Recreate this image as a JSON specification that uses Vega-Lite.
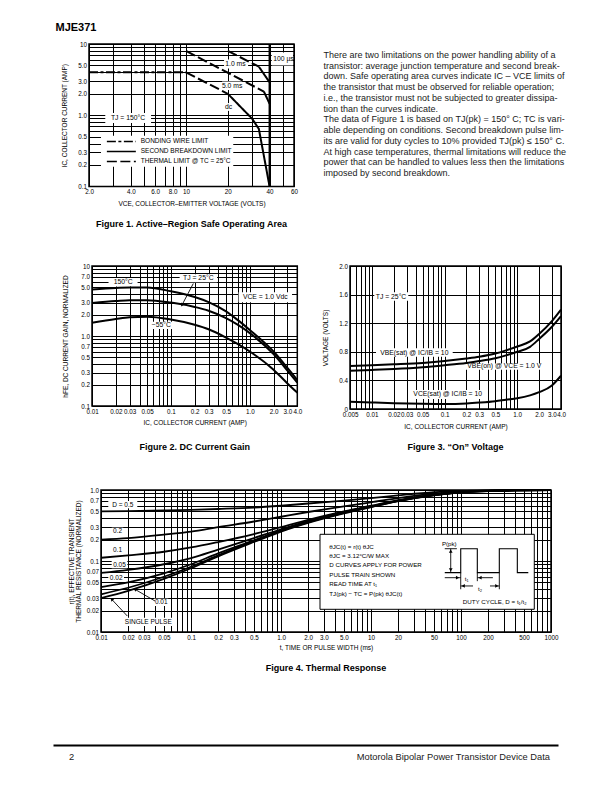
{
"$schema":"https://vega.github.io/schema/vega-lite/v6.json",
"padding":{"left":53,"top":22,"right":5,"bottom":5},
"background":"white",
"title":{"text":"MJE371","anchor":"start","frame":"group","fontSize":11,"fontWeight":"bold","offset":6,"dx":2.5,"color":"black"},
"config":{
 "font":"Liberation Sans",
 "view":{"stroke":"black","strokeWidth":1.5},
 "axis":{"grid":true,"gridColor":"black","gridWidth":1,"gridOpacity":1,"domain":false,"ticks":false,"labelFont":"Liberation Sans","labelFontSize":6.3,"labelColor":"black","labelPadding":2.5,"labelFlush":false,"labelOverlap":false,"labelBound":false,"titleFont":"Liberation Sans","titleFontSize":6.5,"titleFontWeight":"normal","titleColor":"black"},
 "title":{"font":"Liberation Sans","fontSize":9,"fontWeight":"bold","color":"black"},
 "text":{"font":"Liberation Sans","fontSize":6.5,"color":"black"},
 "line":{"color":"black","strokeWidth":2},
 "rule":{"color":"black","strokeWidth":0.9},
 "point":{"color":"black","filled":true,"opacity":1}
},
"datasets":{
 "f1box":[
  {"label":"1.0 ms","x":22.7,"y":5.24,"x1":18.8,"x2":28.0,"y1":6.06,"y2":4.53},
  {"label":"5.0 ms","x":21.5,"y":2.59,"x1":18.2,"x2":25.4,"y1":2.97,"y2":2.26},
  {"label":"dc","x":20.3,"y":1.3,"x1":18.9,"x2":22.0,"y1":1.48,"y2":1.15},
  {"label":"100 µs","x":50.4,"y":6.2,"x1":41.5,"x2":59,"y1":7.6,"y2":5.0},
  {"label":"TJ = 150°C","x":3.82,"y":0.913,"x1":2.62,"x2":5.6,"y1":1.07,"y2":0.777},
  {"label":"","x":10,"y":0.3,"x1":2.44,"x2":21.9,"y1":0.515,"y2":0.189}
 ],
 "f1key":[
  {"limit":"BONDING WIRE LIMIT","x":2.69,"x2":4.35,"tx":4.72,"y":0.428},
  {"limit":"SECOND BREAKDOWN LIMIT","x":2.69,"x2":4.35,"tx":4.72,"y":0.31},
  {"limit":"THERMAL LIMIT @ TC = 25°C","x":2.69,"x2":4.35,"tx":4.72,"y":0.224}
 ],
 "f1curve":[
  {"seg":"dc-a","limit":"BONDING WIRE LIMIT","v":2,"i":4.0},
  {"seg":"dc-a","limit":"BONDING WIRE LIMIT","v":10,"i":4.0},
  {"seg":"dc-b","limit":"THERMAL LIMIT @ TC = 25°C","v":10,"i":4.0},
  {"seg":"dc-b","limit":"THERMAL LIMIT @ TC = 25°C","v":20,"i":2.0},
  {"seg":"dc-c","limit":"SECOND BREAKDOWN LIMIT","v":20,"i":2.0},
  {"seg":"dc-c","limit":"SECOND BREAKDOWN LIMIT","v":30,"i":0.89},
  {"seg":"dc-c","limit":"SECOND BREAKDOWN LIMIT","v":33.5,"i":0.64},
  {"seg":"dc-c","limit":"SECOND BREAKDOWN LIMIT","v":40,"i":0.1},
  {"seg":"5ms-a","limit":"THERMAL LIMIT @ TC = 25°C","v":10,"i":8.0},
  {"seg":"5ms-a","limit":"THERMAL LIMIT @ TC = 25°C","v":36.4,"i":2.15},
  {"seg":"5ms-b","limit":"SECOND BREAKDOWN LIMIT","v":36.4,"i":2.15},
  {"seg":"5ms-b","limit":"SECOND BREAKDOWN LIMIT","v":40,"i":1.45},
  {"seg":"1ms-a","limit":"THERMAL LIMIT @ TC = 25°C","v":20,"i":8.0},
  {"seg":"1ms-a","limit":"THERMAL LIMIT @ TC = 25°C","v":33.5,"i":4.8},
  {"seg":"1ms-b","limit":"SECOND BREAKDOWN LIMIT","v":33.5,"i":4.8},
  {"seg":"1ms-b","limit":"SECOND BREAKDOWN LIMIT","v":40,"i":2.9},
  {"seg":"100us","limit":"SECOND BREAKDOWN LIMIT","v":40,"i":10},
  {"seg":"100us","limit":"SECOND BREAKDOWN LIMIT","v":40,"i":0.1}
 ],
 "para":[
  {"line":1,"text":"\u00a0\u00a0\u00a0\u00a0There are two limitations on the power handling ability of a"},
  {"line":2,"text":"transistor: average junction temperature and second break-"},
  {"line":3,"text":"down. Safe operating area curves indicate IC – VCE limits of"},
  {"line":4,"text":"the transistor that must be observed for reliable operation;"},
  {"line":5,"text":"i.e., the transistor must not be subjected to greater dissipa-"},
  {"line":6,"text":"tion than the curves indicate."},
  {"line":7,"text":"\u00a0\u00a0\u00a0\u00a0The data of Figure 1 is based on TJ(pk) = 150° C; TC is vari-"},
  {"line":8,"text":"able depending on conditions. Second breakdown pulse lim-"},
  {"line":9,"text":"its are valid for duty cycles to 10% provided TJ(pk) ≤ 150° C."},
  {"line":10,"text":"At high case temperatures, thermal limitations will reduce the"},
  {"line":11,"text":"power that can be handled to values less then the limitations"},
  {"line":12,"text":"imposed by second breakdown."}
 ],
 "f2box":[
  {"label":"150°C","x":0.0248,"y":5.87,"x1":0.0162,"x2":0.0378,"y1":6.74,"y2":5.1},
  {"label":"TJ = 25°C","x":0.2225,"y":6.67,"x1":0.129,"x2":0.384,"y1":7.61,"y2":5.85},
  {"label":"VCE = 1.0 Vdc","x":1.572,"y":3.57,"x1":0.721,"x2":3.43,"y1":4.21,"y2":3.03},
  {"label":"−55°C","x":0.0755,"y":1.42,"x1":0.0537,"x2":0.1063,"y1":1.6,"y2":1.26}
 ],
 "f2curve":[
  {"T":"150","x":0.01,"y":4.6},{"T":"150","x":0.02,"y":4.85},{"T":"150","x":0.03,"y":4.95},{"T":"150","x":0.05,"y":4.95},{"T":"150","x":0.1,"y":4.35},{"T":"150","x":0.2,"y":3.6},{"T":"150","x":0.3,"y":3.05},{"T":"150","x":0.5,"y":2.25},{"T":"150","x":0.7,"y":1.7},{"T":"150","x":1,"y":1.22},{"T":"150","x":2,"y":0.6},{"T":"150","x":3,"y":0.35},{"T":"150","x":4,"y":0.235},
  {"T":"25","x":0.01,"y":2.95},{"T":"25","x":0.02,"y":3.15},{"T":"25","x":0.03,"y":3.25},{"T":"25","x":0.05,"y":3.25},{"T":"25","x":0.1,"y":3.0},{"T":"25","x":0.2,"y":2.6},{"T":"25","x":0.3,"y":2.3},{"T":"25","x":0.5,"y":1.8},{"T":"25","x":0.7,"y":1.45},{"T":"25","x":1,"y":1.1},{"T":"25","x":2,"y":0.55},{"T":"25","x":3,"y":0.32},{"T":"25","x":4,"y":0.215},
  {"T":"-55","x":0.01,"y":1.55},{"T":"-55","x":0.02,"y":1.75},{"T":"-55","x":0.03,"y":1.85},{"T":"-55","x":0.05,"y":1.88},{"T":"-55","x":0.1,"y":1.72},{"T":"-55","x":0.2,"y":1.45},{"T":"-55","x":0.3,"y":1.25},{"T":"-55","x":0.5,"y":0.95},{"T":"-55","x":0.7,"y":0.77},{"T":"-55","x":1,"y":0.6},{"T":"-55","x":2,"y":0.33},{"T":"-55","x":3,"y":0.21},{"T":"-55","x":4,"y":0.155}
 ],
 "f2arrow":[{"x":0.1923,"y":5.62,"x2":0.1382,"y2":2.77}],
 "f3box":[
  {"label":"TJ = 25°C","x":0.01833,"y":1.573,"x1":0.0108,"x2":0.0317,"y1":1.632,"y2":1.515},
  {"label":"VBE(sat) @ IC/IB = 10","x":0.0383,"y":0.79,"x1":0.0114,"x2":0.1294,"y1":0.849,"y2":0.731},
  {"label":"VBE(on) @ VCE = 1.0 V","x":0.664,"y":0.595,"x1":0.178,"x2":2.49,"y1":0.635,"y2":0.55},
  {"label":"VCE(sat) @ IC/IB = 10","x":0.1104,"y":0.203,"x1":0.0338,"x2":0.36,"y1":0.266,"y2":0.14}
 ],
 "f3curve":[
  {"c":"sat","x":0.005,"v":0.6},{"c":"sat","x":0.01,"v":0.612},{"c":"sat","x":0.02,"v":0.625},{"c":"sat","x":0.05,"v":0.645},{"c":"sat","x":0.1,"v":0.67},{"c":"sat","x":0.2,"v":0.705},{"c":"sat","x":0.3,"v":0.73},{"c":"sat","x":0.5,"v":0.775},{"c":"sat","x":0.7,"v":0.82},{"c":"sat","x":1,"v":0.875},{"c":"sat","x":1.5,"v":0.945},{"c":"sat","x":2,"v":1.05},{"c":"sat","x":3,"v":1.23},{"c":"sat","x":4,"v":1.39},
  {"c":"on","x":0.005,"v":0.536},{"c":"on","x":0.01,"v":0.547},{"c":"on","x":0.02,"v":0.56},{"c":"on","x":0.05,"v":0.585},{"c":"on","x":0.1,"v":0.613},{"c":"on","x":0.2,"v":0.645},{"c":"on","x":0.3,"v":0.67},{"c":"on","x":0.5,"v":0.71},{"c":"on","x":0.7,"v":0.75},{"c":"on","x":1,"v":0.8},{"c":"on","x":1.5,"v":0.87},{"c":"on","x":2,"v":0.98},{"c":"on","x":3,"v":1.15},{"c":"on","x":4,"v":1.3},
  {"c":"ce","x":0.005,"v":0.103},{"c":"ce","x":0.01,"v":0.092},{"c":"ce","x":0.02,"v":0.082},{"c":"ce","x":0.05,"v":0.073},{"c":"ce","x":0.1,"v":0.07},{"c":"ce","x":0.2,"v":0.078},{"c":"ce","x":0.3,"v":0.09},{"c":"ce","x":0.5,"v":0.11},{"c":"ce","x":0.7,"v":0.13},{"c":"ce","x":1,"v":0.15},{"c":"ce","x":1.5,"v":0.19},{"c":"ce","x":2,"v":0.235},{"c":"ce","x":3,"v":0.33},{"c":"ce","x":4,"v":0.465}
 ],
 "f4box":[
  {"label":"D = 0.5","x":0.01747,"y":0.621,"x1":0.01205,"x2":0.0253,"y1":0.7,"y2":0.552},
  {"label":"0.2","x":0.01525,"y":0.262,"x1":0.01314,"x2":0.01769,"y1":0.2944,"y2":0.2324},
  {"label":"0.1","x":0.01525,"y":0.1429,"x1":0.01314,"x2":0.01769,"y1":0.159,"y2":0.1284},
  {"label":"0.05","x":0.01606,"y":0.0887,"x1":0.01314,"x2":0.0196,"y1":0.1,"y2":0.0789},
  {"label":"0.02","x":0.01475,"y":0.0571,"x1":0.01205,"x2":0.018,"y1":0.0641,"y2":0.0506},
  {"label":"0.01","x":0.04666,"y":0.0262,"x1":0.03879,"x2":0.05594,"y1":0.02944,"y2":0.02323},
  {"label":"SINGLE PULSE","x":0.03354,"y":0.01396,"x1":0.01769,"x2":0.06359,"y1":0.0159,"y2":0.01215}
 ],
 "f4legendbox":[{"x1":2.713,"x2":652,"y1":0.2377,"y2":0.02088}],
 "f4curve":[
  {"D":"0.5","t":0.01,"r":0.5},{"D":"0.5","t":0.02,"r":0.505},{"D":"0.5","t":0.05,"r":0.515},{"D":"0.5","t":0.1,"r":0.525},{"D":"0.5","t":0.2,"r":0.54},{"D":"0.5","t":0.5,"r":0.565},{"D":"0.5","t":1,"r":0.6},{"D":"0.5","t":2,"r":0.645},{"D":"0.5","t":5,"r":0.71},{"D":"0.5","t":10,"r":0.77},{"D":"0.5","t":20,"r":0.84},{"D":"0.5","t":50,"r":0.93},{"D":"0.5","t":100,"r":0.97},{"D":"0.5","t":200,"r":0.99},{"D":"0.5","t":500,"r":1.0},{"D":"0.5","t":1000,"r":1.0},
  {"D":"0.2","t":0.01,"r":0.2},{"D":"0.2","t":0.02,"r":0.21},{"D":"0.2","t":0.05,"r":0.235},{"D":"0.2","t":0.1,"r":0.26},{"D":"0.2","t":0.2,"r":0.3},{"D":"0.2","t":0.5,"r":0.36},{"D":"0.2","t":1,"r":0.42},{"D":"0.2","t":2,"r":0.49},{"D":"0.2","t":5,"r":0.59},{"D":"0.2","t":10,"r":0.67},{"D":"0.2","t":20,"r":0.77},{"D":"0.2","t":50,"r":0.89},{"D":"0.2","t":100,"r":0.95},{"D":"0.2","t":200,"r":0.98},{"D":"0.2","t":500,"r":1.0},{"D":"0.2","t":1000,"r":1.0},
  {"D":"0.1","t":0.01,"r":0.111},{"D":"0.1","t":0.02,"r":0.12},{"D":"0.1","t":0.05,"r":0.135},{"D":"0.1","t":0.1,"r":0.155},{"D":"0.1","t":0.2,"r":0.185},{"D":"0.1","t":0.5,"r":0.24},{"D":"0.1","t":1,"r":0.3},{"D":"0.1","t":2,"r":0.38},{"D":"0.1","t":5,"r":0.5},{"D":"0.1","t":10,"r":0.6},{"D":"0.1","t":20,"r":0.72},{"D":"0.1","t":50,"r":0.86},{"D":"0.1","t":100,"r":0.94},{"D":"0.1","t":200,"r":0.975},{"D":"0.1","t":500,"r":0.995},{"D":"0.1","t":1000,"r":1.0},
  {"D":"0.05","t":0.01,"r":0.068},{"D":"0.05","t":0.02,"r":0.075},{"D":"0.05","t":0.05,"r":0.09},{"D":"0.05","t":0.1,"r":0.11},{"D":"0.05","t":0.2,"r":0.145},{"D":"0.05","t":0.5,"r":0.21},{"D":"0.05","t":1,"r":0.28},{"D":"0.05","t":2,"r":0.365},{"D":"0.05","t":5,"r":0.49},{"D":"0.05","t":10,"r":0.59},{"D":"0.05","t":20,"r":0.71},{"D":"0.05","t":50,"r":0.855},{"D":"0.05","t":100,"r":0.935},{"D":"0.05","t":200,"r":0.97},{"D":"0.05","t":500,"r":0.99},{"D":"0.05","t":1000,"r":1.0},
  {"D":"0.02","t":0.01,"r":0.043},{"D":"0.02","t":0.02,"r":0.05},{"D":"0.02","t":0.05,"r":0.067},{"D":"0.02","t":0.1,"r":0.09},{"D":"0.02","t":0.2,"r":0.128},{"D":"0.02","t":0.5,"r":0.195},{"D":"0.02","t":1,"r":0.27},{"D":"0.02","t":2,"r":0.355},{"D":"0.02","t":5,"r":0.48},{"D":"0.02","t":10,"r":0.585},{"D":"0.02","t":20,"r":0.705},{"D":"0.02","t":50,"r":0.85},{"D":"0.02","t":100,"r":0.93},{"D":"0.02","t":200,"r":0.97},{"D":"0.02","t":500,"r":0.99},{"D":"0.02","t":1000,"r":1.0},
  {"D":"0.01","t":0.01,"r":0.034},{"D":"0.01","t":0.02,"r":0.042},{"D":"0.01","t":0.05,"r":0.06},{"D":"0.01","t":0.1,"r":0.083},{"D":"0.01","t":0.2,"r":0.12},{"D":"0.01","t":0.5,"r":0.19},{"D":"0.01","t":1,"r":0.265},{"D":"0.01","t":2,"r":0.35},{"D":"0.01","t":5,"r":0.475},{"D":"0.01","t":10,"r":0.58},{"D":"0.01","t":20,"r":0.7},{"D":"0.01","t":50,"r":0.845},{"D":"0.01","t":100,"r":0.93},{"D":"0.01","t":200,"r":0.97},{"D":"0.01","t":500,"r":0.99},{"D":"0.01","t":1000,"r":1.0},
  {"D":"single","t":0.01,"r":0.03},{"D":"single","t":0.02,"r":0.038},{"D":"single","t":0.05,"r":0.056},{"D":"single","t":0.1,"r":0.079},{"D":"single","t":0.2,"r":0.116},{"D":"single","t":0.5,"r":0.185},{"D":"single","t":1,"r":0.26},{"D":"single","t":2,"r":0.345},{"D":"single","t":5,"r":0.47},{"D":"single","t":10,"r":0.575},{"D":"single","t":20,"r":0.695},{"D":"single","t":50,"r":0.84},{"D":"single","t":100,"r":0.925},{"D":"single","t":200,"r":0.965},{"D":"single","t":500,"r":0.99},{"D":"single","t":1000,"r":1.0}
 ],
 "f4wave":[
  {"k":1,"t":66,"r":0.0685},{"k":2,"t":99.3,"r":0.0685},{"k":3,"t":99.3,"r":0.149},{"k":4,"t":151.8,"r":0.149},{"k":5,"t":151.8,"r":0.0685},{"k":6,"t":266.5,"r":0.0685},{"k":7,"t":266.5,"r":0.149},{"k":8,"t":422.5,"r":0.149},{"k":9,"t":422.5,"r":0.0685},{"k":10,"t":559.5,"r":0.0685}
 ],
 "f4rule":[
  {"x":76.9,"y":0.149,"x2":76.9,"y2":0.0685},
  {"x":66,"y":0.149,"x2":90,"y2":0.149},
  {"x":66,"y":0.0582,"x2":99.3,"y2":0.0582},
  {"x":151.8,"y":0.0582,"x2":226,"y2":0.0582},
  {"x":99.3,"y":0.0445,"x2":136,"y2":0.0445},
  {"x":210,"y":0.0445,"x2":266.5,"y2":0.0445},
  {"x":99.3,"y":0.0685,"x2":99.3,"y2":0.04},
  {"x":151.8,"y":0.0685,"x2":151.8,"y2":0.052},
  {"x":266.5,"y":0.0685,"x2":266.5,"y2":0.04},
  {"x":0.0398,"y":0.02733,"x2":0.02387,"y2":0.0399},
  {"x":0.0196,"y":0.0168,"x2":0.01314,"y2":0.0289}
 ],
 "f4head":[
  {"x":76.9,"y":0.1381,"dir":"up"},
  {"x":76.9,"y":0.0748,"dir":"down"},
  {"x":91.6,"y":0.0582,"dir":"right"},
  {"x":162.7,"y":0.0582,"dir":"left"},
  {"x":105.8,"y":0.0445,"dir":"left"},
  {"x":249.9,"y":0.0445,"dir":"right"}
 ],
 "f4lead1":[{"x":0.02387,"y":0.0399}],
 "f4lead2":[{"x":0.01314,"y":0.0289}],
 "f4label":[
  {"label":"P(pk)","x":74.1,"y":0.172},
  {"label":"t₁","x":115.7,"y":0.0553},
  {"label":"t₂","x":162.6,"y":0.0408},
  {"label":"DUTY CYCLE, D = t₁/t₂","x":236.8,"y":0.0265}
 ],
 "f4boxtext":[
  {"label":"θJC(t) = r(t) θJC","x":3.44,"y":0.1575},
  {"label":"θJC = 3.12°C/W MAX","x":3.44,"y":0.1176},
  {"label":"D CURVES APPLY FOR POWER","x":3.44,"y":0.0878},
  {"label":"PULSE TRAIN SHOWN","x":3.44,"y":0.0641},
  {"label":"READ TIME AT t₁","x":3.44,"y":0.047},
  {"label":"TJ(pk) − TC = P(pk) θJC(t)","x":3.44,"y":0.0346}
 ],
 "footer":[
  {"side":"left","label":"2"},
  {"side":"right","label":"Motorola Bipolar Power Transistor Device Data"}
 ]
},
"bounds":"full","spacing":0,
"vconcat":[
 {"bounds":"full","spacing":0,"vconcat":[
  {"bounds":"flush","spacing":0,"hconcat":[
   {"width":35.5,"height":218,"view":{"stroke":null},"data":{"values":[]},"mark":"point"},
   {"width":205,"height":142.4,
    "title":{"text":"Figure 1. Active–Region Safe Operating Area","orient":"bottom","anchor":"middle","frame":"group","offset":13},
    "layer":[
     {"data":{"name":"f1box"},"mark":{"type":"rect","fill":"white","stroke":null},
      "encoding":{
       "x":{"field":"x1","type":"quantitative","scale":{"type":"log","domain":[2,60],"nice":false},"axis":{"title":"VCE, COLLECTOR–EMITTER VOLTAGE (VOLTS)","tickCount":200,"values":[2,3,4,5,6,7,8,9,10,20,30,40,50,60],"labelExpr":"indexof([2,4,6,8,10,20,40,60], datum.value) >= 0 ? (datum.value >= 10 ? format(datum.value, 'd') : format(datum.value, '.1f')) : ''","titlePadding":5}},
       "x2":{"field":"x2"},
       "y":{"field":"y1","type":"quantitative","scale":{"type":"log","domain":[0.1,10],"nice":false},"axis":{"title":"IC, COLLECTOR CURRENT (AMP)","tickCount":200,"values":[0.1,0.2,0.3,0.4,0.5,0.6,0.7,0.8,0.9,1,2,3,4,5,6,7,8,9,10],"labelExpr":"indexof([0.1,0.2,0.3,0.5,1,2,3,5,10], datum.value) >= 0 ? (datum.value >= 10 ? format(datum.value, 'd') : datum.value >= 1 ? format(datum.value, '.1f') : '' + datum.value) : ''","titlePadding":10}},
       "y2":{"field":"y2"}}},
     {"data":{"name":"f1curve"},"mark":{"type":"line","color":"black","strokeWidth":2},
      "encoding":{
       "x":{"field":"v","type":"quantitative","scale":{"type":"log","domain":[2,60],"nice":false}},
       "y":{"field":"i","type":"quantitative","scale":{"type":"log","domain":[0.1,10],"nice":false}},
       "detail":{"field":"seg"},
       "strokeDash":{"field":"limit","type":"nominal",
        "scale":{"domain":["BONDING WIRE LIMIT","SECOND BREAKDOWN LIMIT","THERMAL LIMIT @ TC = 25°C"],"range":[[9,2.5,3,2.5],[1,0],[10,3.5]]},
        "legend":null}}},
     {"data":{"name":"f1key"},"mark":{"type":"rule","strokeWidth":1.5,"color":"black"},
      "encoding":{
       "x":{"field":"x","type":"quantitative","scale":{"type":"log","domain":[2,60],"nice":false}},
       "x2":{"field":"x2"},
       "y":{"field":"y","type":"quantitative","scale":{"type":"log","domain":[0.1,10],"nice":false}},
       "strokeDash":{"field":"limit","type":"nominal","legend":null}}},
     {"data":{"name":"f1key"},"mark":{"type":"text","fontSize":6.5,"align":"left"},
      "encoding":{
       "x":{"field":"tx","type":"quantitative","scale":{"type":"log","domain":[2,60],"nice":false}},
       "y":{"field":"y","type":"quantitative","scale":{"type":"log","domain":[0.1,10],"nice":false}},
       "text":{"field":"limit"}}},
     {"data":{"name":"f1box"},"mark":{"type":"text","fontSize":6.8},
      "encoding":{
       "x":{"field":"x","type":"quantitative","scale":{"type":"log","domain":[2,60],"nice":false}},
       "y":{"field":"y","type":"quantitative","scale":{"type":"log","domain":[0.1,10],"nice":false}},
       "text":{"field":"label"}}}
    ]},
   {"width":28.2,"height":1,"view":{"stroke":null},"data":{"values":[]},"mark":"point"},
   {"width":1,"height":140,"view":{"stroke":null},"data":{"name":"para"},
    "mark":{"type":"text","align":"left","baseline":"middle","fontSize":9,"color":"#1a1a1a"},
    "encoding":{"y":{"field":"line","type":"ordinal","scale":{"type":"point","padding":1.162},"axis":null},"text":{"field":"text"}}}
  ]},
  {"bounds":"flush","spacing":0,"hconcat":[
   {"width":38.7,"height":219,"view":{"stroke":null},"data":{"values":[]},"mark":"point"},
   {"width":205.3,"height":140,
    "title":{"text":"Figure 2. DC Current Gain","orient":"bottom","anchor":"middle","frame":"group","offset":17},
    "layer":[
     {"data":{"name":"f2box"},"mark":{"type":"rect","fill":"white","stroke":null},
      "encoding":{
       "x":{"field":"x1","type":"quantitative","scale":{"type":"log","domain":[0.01,4],"nice":false},"axis":{"title":"IC, COLLECTOR CURRENT (AMP)","tickCount":200,"values":[0.01,0.02,0.03,0.04,0.05,0.06,0.07,0.08,0.09,0.1,0.2,0.3,0.4,0.5,0.6,0.7,0.8,0.9,1,2,3,4],"labelExpr":"indexof([0.01,0.02,0.03,0.05,0.1,0.2,0.3,0.5,1,2,3,4], datum.value) >= 0 ? (datum.value >= 10 ? format(datum.value, 'd') : datum.value >= 1 ? format(datum.value, '.1f') : '' + datum.value) : ''","titlePadding":5}},
       "x2":{"field":"x2"},
       "y":{"field":"y1","type":"quantitative","scale":{"type":"log","domain":[0.1,10],"nice":false},"axis":{"title":"hFE, DC CURRENT GAIN, NORMALIZED","tickCount":200,"values":[0.1,0.2,0.3,0.4,0.5,0.6,0.7,0.8,0.9,1,2,3,4,5,6,7,8,9,10],"labelExpr":"indexof([0.1,0.2,0.3,0.5,0.7,1,2,3,5,7,10], datum.value) >= 0 ? (datum.value >= 10 ? format(datum.value, 'd') : datum.value >= 1 ? format(datum.value, '.1f') : '' + datum.value) : ''","titlePadding":12}},
       "y2":{"field":"y2"}}},
     {"data":{"name":"f2curve"},"mark":{"type":"line","color":"black","strokeWidth":2,"interpolate":"monotone"},
      "encoding":{
       "x":{"field":"x","type":"quantitative","scale":{"type":"log","domain":[0.01,4],"nice":false}},
       "y":{"field":"y","type":"quantitative","scale":{"type":"log","domain":[0.1,10],"nice":false}},
       "detail":{"field":"T"}}},
     {"data":{"name":"f2arrow"},"mark":{"type":"rule","strokeWidth":0.9},
      "encoding":{
       "x":{"field":"x","type":"quantitative","scale":{"type":"log","domain":[0.01,4],"nice":false}},
       "y":{"field":"y","type":"quantitative","scale":{"type":"log","domain":[0.1,10],"nice":false}},
       "x2":{"field":"x2"},"y2":{"field":"y2"}}},
     {"data":{"name":"f2arrow"},"mark":{"type":"point","shape":"triangle-up","angle":208,"size":16,"filled":true,"color":"black"},
      "encoding":{
       "x":{"field":"x2","type":"quantitative","scale":{"type":"log","domain":[0.01,4],"nice":false}},
       "y":{"field":"y2","type":"quantitative","scale":{"type":"log","domain":[0.1,10],"nice":false}}}},
     {"data":{"name":"f2box"},"mark":{"type":"text","fontSize":6.8},
      "encoding":{
       "x":{"field":"x","type":"quantitative","scale":{"type":"log","domain":[0.01,4],"nice":false}},
       "y":{"field":"y","type":"quantitative","scale":{"type":"log","domain":[0.1,10],"nice":false}},
       "text":{"field":"label"}}}
    ]},
   {"width":52,"height":1,"view":{"stroke":null},"data":{"values":[]},"mark":"point"},
   {"width":211,"height":143,
    "title":{"text":"Figure 3. “On” Voltage","orient":"bottom","anchor":"middle","frame":"group","offset":13},
    "layer":[
     {"data":{"name":"f3box"},"mark":{"type":"rect","fill":"white","stroke":null},
      "encoding":{
       "x":{"field":"x1","type":"quantitative","scale":{"type":"log","domain":[0.005,4],"nice":false},"axis":{"title":"IC, COLLECTOR CURRENT (AMP)","tickCount":200,"values":[0.005,0.006,0.007,0.008,0.009,0.01,0.02,0.03,0.04,0.05,0.06,0.07,0.08,0.09,0.1,0.2,0.3,0.4,0.5,0.6,0.7,0.8,0.9,1,2,3,4],"labelExpr":"indexof([0.005,0.01,0.02,0.03,0.05,0.1,0.2,0.3,0.5,1,2,3,4], datum.value) >= 0 ? (datum.value >= 10 ? format(datum.value, 'd') : datum.value >= 1 ? format(datum.value, '.1f') : '' + datum.value) : ''","titlePadding":6}},
       "x2":{"field":"x2"},
       "y":{"field":"y1","type":"quantitative","scale":{"type":"linear","domain":[0,2],"nice":false},"axis":{"title":"VOLTAGE (VOLTS)","tickCount":200,"values":[0,0.4,0.8,1.2,1.6,2],"labelExpr":"datum.value >= 1 ? format(datum.value, '.1f') : '' + datum.value","titlePadding":10}},
       "y2":{"field":"y2"}}},
     {"data":{"name":"f3curve"},"mark":{"type":"line","color":"black","strokeWidth":2,"interpolate":"monotone"},
      "encoding":{
       "x":{"field":"x","type":"quantitative","scale":{"type":"log","domain":[0.005,4],"nice":false}},
       "y":{"field":"v","type":"quantitative","scale":{"type":"linear","domain":[0,2],"nice":false}},
       "detail":{"field":"c"}}},
     {"data":{"name":"f3box"},"mark":{"type":"text","fontSize":6.8},
      "encoding":{
       "x":{"field":"x","type":"quantitative","scale":{"type":"log","domain":[0.005,4],"nice":false}},
       "y":{"field":"y","type":"quantitative","scale":{"type":"linear","domain":[0,2],"nice":false}},
       "text":{"field":"label"}}}
    ]}
  ]},
  {"bounds":"flush","spacing":0,"hconcat":[
   {"width":48,"height":255,"view":{"stroke":null},"data":{"values":[]},"mark":"point"},
   {"width":450,"height":142,
    "title":{"text":"Figure 4. Thermal Response","orient":"bottom","anchor":"middle","frame":"group","offset":13},
    "layer":[
     {"data":{"name":"f4box"},"mark":{"type":"rect","fill":"white","stroke":null},
      "encoding":{
       "x":{"field":"x1","type":"quantitative","scale":{"type":"log","domain":[0.01,1000],"nice":false},"axis":{"title":"t, TIME OR PULSE WIDTH (ms)","tickCount":200,"values":[0.01,0.02,0.03,0.04,0.05,0.06,0.07,0.08,0.09,0.1,0.2,0.3,0.4,0.5,0.6,0.7,0.8,0.9,1,2,3,4,5,6,7,8,9,10,20,30,40,50,60,70,80,90,100,200,300,400,500,600,700,800,900,1000],"labelExpr":"indexof([0.01,0.02,0.03,0.05,0.1,0.2,0.3,0.5,1,2,3,5,10,20,50,100,200,500,1000], datum.value) >= 0 ? (datum.value >= 10 ? format(datum.value, 'd') : datum.value >= 1 ? format(datum.value, '.1f') : '' + datum.value) : ''","titlePadding":4}},
       "x2":{"field":"x2"},
       "y":{"field":"y1","type":"quantitative","scale":{"type":"log","domain":[0.01,1],"nice":false},"axis":{"title":["r(t), EFFECTIVE TRANSIENT","THERMAL RESISTANCE (NORMALIZED)"],"titleLineHeight":6.8,"tickCount":200,"values":[0.01,0.02,0.03,0.04,0.05,0.06,0.07,0.08,0.09,0.1,0.2,0.3,0.4,0.5,0.6,0.7,0.8,0.9,1],"labelExpr":"indexof([0.01,0.02,0.03,0.05,0.07,0.1,0.2,0.3,0.5,0.7,1], datum.value) >= 0 ? (datum.value >= 10 ? format(datum.value, 'd') : datum.value >= 1 ? format(datum.value, '.1f') : '' + datum.value) : ''","titlePadding":5}},
       "y2":{"field":"y2"}}},
     {"data":{"name":"f4legendbox"},"mark":{"type":"rect","fill":"white","stroke":"black","strokeWidth":1},
      "encoding":{
       "x":{"field":"x1","type":"quantitative","scale":{"type":"log","domain":[0.01,1000],"nice":false}},
       "x2":{"field":"x2"},
       "y":{"field":"y1","type":"quantitative","scale":{"type":"log","domain":[0.01,1],"nice":false}},
       "y2":{"field":"y2"}}},
     {"data":{"name":"f4curve"},"mark":{"type":"line","color":"black","strokeWidth":1.8,"interpolate":"monotone"},
      "encoding":{
       "x":{"field":"t","type":"quantitative","scale":{"type":"log","domain":[0.01,1000],"nice":false}},
       "y":{"field":"r","type":"quantitative","scale":{"type":"log","domain":[0.01,1],"nice":false}},
       "detail":{"field":"D"}}},
     {"data":{"name":"f4wave"},"mark":{"type":"line","color":"black","strokeWidth":1.1},
      "encoding":{
       "x":{"field":"t","type":"quantitative","scale":{"type":"log","domain":[0.01,1000],"nice":false}},
       "y":{"field":"r","type":"quantitative","scale":{"type":"log","domain":[0.01,1],"nice":false}},
       "order":{"field":"k","type":"quantitative"}}},
     {"data":{"name":"f4rule"},"mark":{"type":"rule","strokeWidth":0.9},
      "encoding":{
       "x":{"field":"x","type":"quantitative","scale":{"type":"log","domain":[0.01,1000],"nice":false}},
       "y":{"field":"y","type":"quantitative","scale":{"type":"log","domain":[0.01,1],"nice":false}},
       "x2":{"field":"x2"},"y2":{"field":"y2"}}},
     {"data":{"name":"f4head"},"mark":{"type":"point","size":14,"filled":true,"color":"black"},
      "encoding":{
       "x":{"field":"x","type":"quantitative","scale":{"type":"log","domain":[0.01,1000],"nice":false}},
       "y":{"field":"y","type":"quantitative","scale":{"type":"log","domain":[0.01,1],"nice":false}},
       "shape":{"field":"dir","type":"nominal","scale":{"domain":["up","down","left","right"],"range":["triangle-up","triangle-down","triangle-left","triangle-right"]},"legend":null}}},
     {"data":{"name":"f4lead1"},"mark":{"type":"point","shape":"triangle-up","angle":300,"size":14,"filled":true,"color":"black"},
      "encoding":{
       "x":{"field":"x","type":"quantitative","scale":{"type":"log","domain":[0.01,1000],"nice":false}},
       "y":{"field":"y","type":"quantitative","scale":{"type":"log","domain":[0.01,1],"nice":false}}}},
     {"data":{"name":"f4lead2"},"mark":{"type":"point","shape":"triangle-up","angle":317,"size":14,"filled":true,"color":"black"},
      "encoding":{
       "x":{"field":"x","type":"quantitative","scale":{"type":"log","domain":[0.01,1000],"nice":false}},
       "y":{"field":"y","type":"quantitative","scale":{"type":"log","domain":[0.01,1],"nice":false}}}},
     {"data":{"name":"f4box"},"mark":{"type":"text","fontSize":6.5},
      "encoding":{
       "x":{"field":"x","type":"quantitative","scale":{"type":"log","domain":[0.01,1000],"nice":false}},
       "y":{"field":"y","type":"quantitative","scale":{"type":"log","domain":[0.01,1],"nice":false}},
       "text":{"field":"label"}}},
     {"data":{"name":"f4label"},"mark":{"type":"text","fontSize":6.2},
      "encoding":{
       "x":{"field":"x","type":"quantitative","scale":{"type":"log","domain":[0.01,1000],"nice":false}},
       "y":{"field":"y","type":"quantitative","scale":{"type":"log","domain":[0.01,1],"nice":false}},
       "text":{"field":"label"}}},
     {"data":{"name":"f4boxtext"},"mark":{"type":"text","fontSize":6.2,"align":"left"},
      "encoding":{
       "x":{"field":"x","type":"quantitative","scale":{"type":"log","domain":[0.01,1000],"nice":false}},
       "y":{"field":"y","type":"quantitative","scale":{"type":"log","domain":[0.01,1],"nice":false}},
       "text":{"field":"label"}}}
    ]}
  ]}
 ]},
 {"width":505,"height":24,"view":{"stroke":null},"data":{"name":"footer"},
  "layer":[
   {"transform":[{"filter":"datum.side === 'left'"}],"mark":{"type":"text","align":"left","baseline":"middle","fontSize":9.3,"dx":16,"color":"#1a1a1a"},
    "encoding":{"x":{"field":"side","type":"nominal","scale":{"type":"point","domain":["left","right"],"padding":0},"axis":{"orient":"top","domain":true,"domainColor":"black","domainWidth":2,"labels":false,"ticks":false,"grid":false,"title":null}},"text":{"field":"label"}}},
   {"transform":[{"filter":"datum.side === 'right'"}],"mark":{"type":"text","align":"right","baseline":"middle","fontSize":9.3,"dx":-8,"color":"#1a1a1a"},
    "encoding":{"x":{"field":"side","type":"nominal","scale":{"type":"point","domain":["left","right"],"padding":0}},"text":{"field":"label"}}}
  ]}
]
}
